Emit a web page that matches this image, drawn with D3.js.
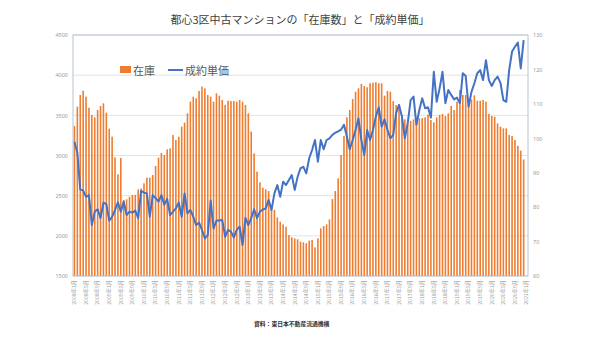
<!DOCTYPE html>
<html><head><meta charset="utf-8">
<script src="https://cdn.jsdelivr.net/npm/d3@7"></script>
<style>
html,body{margin:0;padding:0;background:#fff;}
svg{display:block;font-family:"Noto Sans CJK JP","Noto Sans",sans-serif;}
</style></head>
<body><svg id="c" width="600" height="337"></svg>
<script>
const title = "都心3区中古マンションの「在庫数」と「成約単価」";
const source = "資料：東日本不動産流通機構";
const seriesNames = ["在庫", "成約単価"];
const years = [2008,2009,2010,2011,2012,2013,2014,2015,2016,2017,2018,2019,2020,2021];
const categories = [];
years.forEach(y => { for (let m = 1; m <= 12; m++) { if (y === 2021 && m > 1) break; categories.push(y + "年" + m + "月"); } });
const leftTicks = [1500,2000,2500,3000,3500,4000,4500];
const rightTicks = [60,70,80,90,100,110,120,130];

const inventory = [
3367,3608,3753,3807,3732,3595,3504,3475,3566,3616,3650,3533,
3334,3234,2977,2766,2969,2446,2455,2487,2510,2510,2579,2590,
2654,2724,2724,2757,2869,2973,3030,3006,3077,3089,3255,3193,
3234,3359,3409,3525,3670,3732,3712,3803,3857,3836,3753,3732,
3670,3774,3745,3691,3629,3682,3678,3678,3670,3691,3670,3629,
3525,3297,3027,2799,2666,2599,2579,2558,2384,2322,2230,2176,
2143,2114,2010,1981,1969,1957,1927,1919,1907,1940,1948,1857,
1969,2093,2122,2143,2205,2458,2558,2716,3006,3243,3475,3566,
3703,3794,3836,3890,3865,3849,3899,3906,3911,3899,3899,3745,
3803,3794,3678,3629,3575,3504,3450,3388,3429,3450,3463,3463,
3463,3475,3510,3442,3413,3475,3504,3517,3491,3525,3616,3566,
3670,3815,3753,3753,3670,3699,3749,3682,3682,3691,3670,3517,
3491,3483,3400,3359,3338,3338,3255,3243,3193,3120,3060,2950
];
const unitPrice = [
99.0,95.8,85.2,84.8,83.0,83.5,74.8,78.7,79.4,76.8,81.3,80.9,
76.1,77.2,79.2,81.4,78.7,81.6,77.7,78.7,78.4,79.0,76.8,84.7,
84.2,84.0,77.2,83.5,82.6,81.6,83.5,80.7,82.4,77.7,78.7,79.6,
81.4,77.2,84.0,78.2,79.2,77.2,74.8,75.5,73.4,70.9,71.9,81.9,
73.8,76.1,76.1,76.3,71.4,73.4,72.9,71.2,73.4,74.3,69.0,76.9,
74.8,76.8,79.4,76.8,78.7,79.3,79.6,82.1,79.2,84.0,86.4,83.0,
87.4,86.4,87.9,89.3,85.0,88.8,91.3,91.7,89.8,94.2,96.6,99.5,
93.2,99.5,96.8,99.5,100.0,101.0,101.6,102.0,102.5,103.9,100.5,96.8,
99.5,102.4,105.8,99.5,95.1,102.4,99.5,102.4,106.3,109.0,103.4,105.5,
102.4,100.0,101.0,107.3,109.7,106.3,100.0,104.4,111.1,112.1,103.9,108.2,
111.6,108.7,109.0,106.0,119.3,110.6,114.5,119.3,110.2,114.0,112.6,111.3,
111.8,110.2,118.9,118.1,109.2,113.5,116.0,118.9,119.8,116.9,122.7,116.9,
115.2,116.9,117.9,116.1,111.1,110.6,119.8,125.2,126.6,127.8,120.3,128.5
];

const svg = d3.select("#c");
const L = 73, R = 528, T = 35, B = 276;
const x = d3.scaleBand().domain(categories).range([L, R]).paddingInner(0.45).paddingOuter(0.225);
const yL = d3.scaleLinear().domain([1500, 4500]).range([B, T]);
const yR = d3.scaleLinear().domain([60, 130]).range([B, T]);

// title
svg.append("text").attr("x", 300).attr("y", 24).attr("text-anchor", "middle")
  .attr("font-size", 11).attr("fill", "#404040").text(title);

// gridlines
svg.append("g").selectAll("line").data(leftTicks).join("line")
  .attr("x1", L).attr("x2", R).attr("y1", d => yL(d)).attr("y2", d => yL(d))
  .attr("stroke", "#e3e3e3").attr("stroke-width", 1);

// bars
const barData = inventory.map((v, i) => ({c: categories[i], v}));
svg.append("g").selectAll("rect").data(barData).join("rect")
  .attr("x", d => x(d.c)).attr("width", x.bandwidth())
  .attr("y", d => yL(d.v)).attr("height", d => yL(1500) - yL(d.v))
  .attr("fill", "#ED7D31");

// line
const lineData = unitPrice.map((v, i) => ({c: categories[i], v}));
const line = d3.line().x(d => x(d.c) + x.bandwidth() / 2).y(d => yR(d.v));
svg.append("path").datum(lineData).attr("d", line)
  .attr("fill", "none").attr("stroke", "#4472C4").attr("stroke-width", 2).attr("stroke-linejoin", "round");

// plot border
svg.append("rect").attr("x", L).attr("y", T).attr("width", R - L).attr("height", B - T)
  .attr("fill", "none").attr("stroke", "#b8c3d3").attr("stroke-width", 1);

// left axis
const ga = svg.append("g").attr("transform", `translate(${L - 5},0)`)
  .call(d3.axisLeft(yL).tickValues(leftTicks).tickFormat(d3.format("d")).tickSize(0).tickPadding(0));
ga.select(".domain").remove();
ga.selectAll("text").attr("font-size", 5.5).attr("fill", "#9a9a9a").attr("font-family", "Noto Sans, sans-serif");

// right axis
const gr = svg.append("g").attr("transform", `translate(${R + 5},0)`)
  .call(d3.axisRight(yR).tickValues(rightTicks).tickFormat(d3.format("d")).tickSize(0).tickPadding(0));
gr.select(".domain").remove();
gr.selectAll("text").attr("font-size", 5.5).attr("fill", "#9a9a9a").attr("font-family", "Noto Sans, sans-serif");

// x axis labels
const xLabels = categories.filter((c, i) => i % 4 === 0);
svg.append("g").selectAll("text").data(xLabels).join("text")
  .attr("transform", d => `translate(${x(d) + x.bandwidth() / 2 + 1.8},280) rotate(-90)`)
  .attr("text-anchor", "end").attr("font-size", 5.2).attr("fill", "#9a9a9a").text(d => d);

// legend
svg.append("rect").attr("x", 120).attr("y", 66).attr("width", 11).attr("height", 7).attr("fill", "#ED7D31");
svg.append("text").attr("x", 133).attr("y", 74.5).attr("font-size", 11).attr("fill", "#595959").text(seriesNames[0]);
svg.append("line").attr("x1", 168).attr("x2", 183).attr("y1", 70).attr("y2", 70)
  .attr("stroke", "#4472C4").attr("stroke-width", 2);
svg.append("text").attr("x", 185).attr("y", 74.5).attr("font-size", 11).attr("fill", "#595959").text(seriesNames[1]);

// source
svg.append("text").attr("x", 254).attr("y", 326).attr("font-size", 5.8).attr("fill", "#333")
  .attr("font-weight", "bold").text(source);
</script></body></html>
